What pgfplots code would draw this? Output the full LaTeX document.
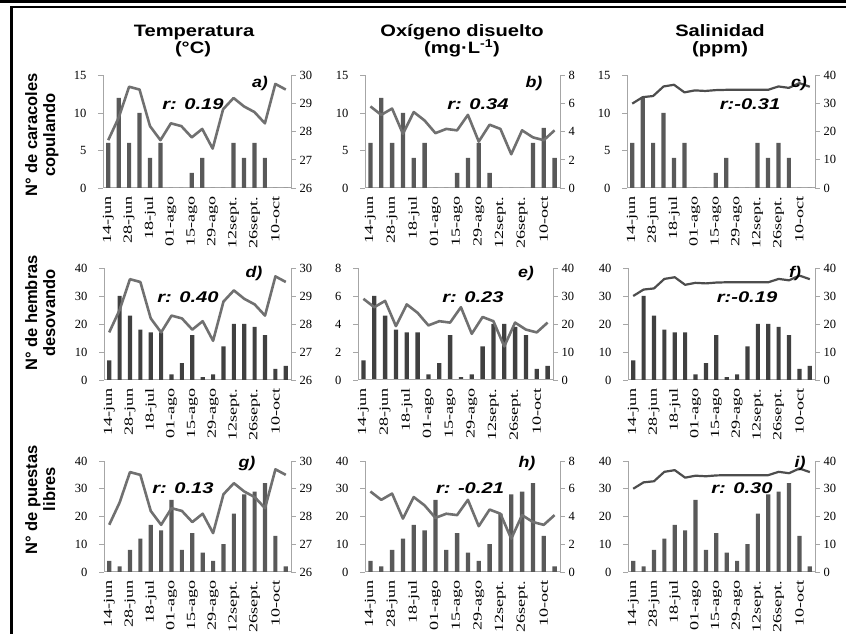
\documentclass[border=0pt]{standalone}
\usepackage{fontspec}
\usepackage{pgfplots}
\usepackage{pgfplotstable}
\pgfplotsset{compat=1.18}
\setmainfont{Liberation Serif}
\newfontfamily\tickfont{Liberation Serif}
\newfontfamily\xtickfont[FakeStretch=1.45]{Liberation Serif}
\newfontfamily\titlefont[FakeStretch=1.22]{Liberation Sans}
\newfontfamily\rfont[FakeStretch=1.3]{Liberation Sans}
\newfontfamily\letfont[FakeStretch=1.15]{Liberation Sans}
\newfontfamily\rowfont{Liberation Sans}

\definecolor{axgray}{HTML}{A6A6A6}
\definecolor{barA}{HTML}{595959}
\definecolor{barB}{HTML}{404040}
\definecolor{lineT}{HTML}{707070}
\definecolor{lineS}{HTML}{4D4D4D}

\pgfplotstableread{
x T O S copA copB des pue
0 27.7 5.8 30.0 6 6 7 4
1 28.5 5.2 32.3 12 12 30 2
2 29.6 5.65 32.7 6 6 23 8
3 29.5 3.85 36.1 10 10 18 12
4 28.2 5.4 36.7 4 4 17 17
5 27.7 4.8 34.0 6 6 17 15
6 28.3 3.9 34.7 0 0 2 26
7 28.2 4.2 34.5 0 0 6 8
8 27.8 4.1 34.8 2 2 16 14
9 28.1 5.2 34.9 4 4 1 7
10 27.4 3.3 34.9 0 6 2 4
11 28.8 4.5 34.9 0 2 12 10
12 29.2 4.2 34.9 6 0 20 21
13 28.9 2.4 34.9 4 0 20 28
14 28.7 4.1 36.1 6 0 19 29
15 28.3 3.6 35.6 4 6 16 32
16 29.7 3.4 37.3 0 8 4 13
17 29.5 4.1 36.0 0 4 5 2
}\data

\pgfplotsset{
 pan/.style={scale only axis, xmin=-0.5, xmax=17.5,
   axis line style={draw=axgray, line width=1pt, -},
   tick align=outside, major tick length=5pt,
   ytick style={draw=axgray, line width=0.8pt},
   ticklabel style={font=\tickfont\fontsize{12.5}{14}\selectfont, text=black},
   /pgf/number format/assume math mode=true, clip=false, scaled y ticks=false},
 lax/.style={pan, axis y line*=left, axis x line*=bottom,
   xtick={0,2,...,16},
   xticklabels={14-jun,28-jun,18-jul,01-ago,15-ago,29-ago,12sept.,26sept.,10-oct},
   xtick style={draw=none},
   y tick label style={xshift=-8pt},
   x tick label style={rotate=90, anchor=east, font=\xtickfont\fontsize{12.5}{14}\selectfont}},
 rax/.style={pan, axis y line*=right, axis x line=none},
 br/.style={ybar, bar width=0.4, fill=#1, draw=none},
 lt/.style={color=lineT, line width=2.6pt, line join=round, mark=none},
 ls/.style={color=lineS, line width=2.2pt, line join=round, mark=none},
}

\begin{document}
\begin{tikzpicture}
\useasboundingbox (0pt,0pt) rectangle (846pt,634pt);
\draw[line width=2.7pt] (0pt,632.6pt) -- (846pt,632.6pt);
\draw[line width=2.4pt] (11.3pt,-5pt) -- (11.3pt,627pt) -- (850pt,627pt);

% ---------- row 1 ----------
\begin{axis}[lax, at={(103pt,446pt)}, anchor=south west, width=188pt, height=112.5pt, ymin=0, ymax=15, ytick={0,5,10,15}]
\addplot[br=barA] table[x=x,y=copA]{\data};
\end{axis}
\begin{axis}[rax, at={(103pt,446pt)}, anchor=south west, width=188pt, height=112.5pt, ymin=26, ymax=30, ytick={26,27,28,29,30}]
\addplot[lt] table[x=x,y=T]{\data};
\end{axis}

\begin{axis}[lax, at={(365pt,446pt)}, anchor=south west, width=195pt, height=112.5pt, ymin=0, ymax=15, ytick={0,5,10,15}]
\addplot[br=barA] table[x=x,y=copB]{\data};
\end{axis}
\begin{axis}[rax, at={(365pt,446pt)}, anchor=south west, width=195pt, height=112.5pt, ymin=0, ymax=8, ytick={0,2,4,6,8}]
\addplot[lt] table[x=x,y=O]{\data};
\end{axis}

\begin{axis}[lax, at={(627pt,446pt)}, anchor=south west, width=188pt, height=112.5pt, ymin=0, ymax=15, ytick={0,5,10,15}]
\addplot[br=barA] table[x=x,y=copA]{\data};
\end{axis}
\begin{axis}[rax, at={(627pt,446pt)}, anchor=south west, width=188pt, height=112.5pt, ymin=0, ymax=40, ytick={0,10,20,30,40}]
\addplot[ls] table[x=x,y=S]{\data};
\end{axis}

% ---------- row 2 ----------
\begin{axis}[lax, at={(104pt,254pt)}, anchor=south west, width=187pt, height=112pt, ymin=0, ymax=40, ytick={0,10,20,30,40}]
\addplot[br=barB] table[x=x,y=des]{\data};
\end{axis}
\begin{axis}[rax, at={(104pt,254pt)}, anchor=south west, width=187pt, height=112pt, ymin=26, ymax=30, ytick={26,27,28,29,30}]
\addplot[lt] table[x=x,y=T]{\data};
\end{axis}

\begin{axis}[rax, at={(358pt,254pt)}, anchor=south west, width=195pt, height=112pt, ymin=0, ymax=40, ytick={0,10,20,30,40}]
\addplot[br=barB] table[x=x,y=des]{\data};
\end{axis}
\begin{axis}[lax, at={(358pt,254pt)}, anchor=south west, width=195pt, height=112pt, ymin=0, ymax=8, ytick={0,2,4,6,8}]
\addplot[lt] table[x=x,y=O]{\data};
\end{axis}

\begin{axis}[lax, at={(628pt,254pt)}, anchor=south west, width=187pt, height=112pt, ymin=0, ymax=40, ytick={0,10,20,30,40}]
\addplot[br=barB] table[x=x,y=des]{\data};
\end{axis}
\begin{axis}[rax, at={(628pt,254pt)}, anchor=south west, width=187pt, height=112pt, ymin=0, ymax=40, ytick={0,10,20,30,40}]
\addplot[ls] table[x=x,y=S]{\data};
\end{axis}

% ---------- row 3 ----------
\begin{axis}[lax, at={(104pt,62pt)}, anchor=south west, width=187pt, height=111pt, ymin=0, ymax=40, ytick={0,10,20,30,40}]
\addplot[br=barA] table[x=x,y=pue]{\data};
\end{axis}
\begin{axis}[rax, at={(104pt,62pt)}, anchor=south west, width=187pt, height=111pt, ymin=26, ymax=30, ytick={26,27,28,29,30}]
\addplot[lt] table[x=x,y=T]{\data};
\end{axis}

\begin{axis}[lax, at={(365pt,62pt)}, anchor=south west, width=195pt, height=111pt, ymin=0, ymax=40, ytick={0,10,20,30,40}]
\addplot[br=barA] table[x=x,y=pue]{\data};
\end{axis}
\begin{axis}[rax, at={(365pt,62pt)}, anchor=south west, width=195pt, height=111pt, ymin=0, ymax=8, ytick={0,2,4,6,8}]
\addplot[lt] table[x=x,y=O]{\data};
\end{axis}

\begin{axis}[lax, at={(628pt,62pt)}, anchor=south west, width=187pt, height=111pt, ymin=0, ymax=40, ytick={0,10,20,30,40}]
\addplot[br=barA] table[x=x,y=pue]{\data};
\end{axis}
\begin{axis}[rax, at={(628pt,62pt)}, anchor=south west, width=187pt, height=111pt, ymin=0, ymax=40, ytick={0,10,20,30,40}]
\addplot[ls] table[x=x,y=S]{\data};
\end{axis}

% ---------- titles ----------
\begin{scope}[every node/.style={anchor=base, inner sep=0pt, font=\titlefont\bfseries\fontsize{16.5}{19}\selectfont}]
\node at (194pt,597.5pt) {Temperatura};
\node at (193pt,580pt) {(°C)};
\node at (462pt,597.5pt) {Oxígeno disuelto};
\node at (462pt,580pt) {(mg·L\textsuperscript{-1})};
\node at (720pt,597.5pt) {Salinidad};
\node at (720pt,580pt) {(ppm)};
\end{scope}

\begin{scope}[every node/.style={anchor=base, inner sep=0pt, rotate=90, font=\rowfont\bfseries\fontsize{16.5}{19}\selectfont}]
\node at (37pt,499pt) {N° de caracoles};
\node at (55pt,499pt) {copulando};
\node at (37pt,321pt) {N° de hembras};
\node at (55pt,321pt) {desovando};
\node at (37pt,134pt) {N° de puestas};
\node at (55pt,145pt) {libres};
\end{scope}

\begin{scope}[every node/.style={anchor=base, inner sep=0pt, font=\rfont\bfseries\itshape\fontsize{15.5}{18}\selectfont}]
\node at (193pt,524pt) {r: 0.19};
\node at (478pt,524pt) {r: 0.34};
\node at (750pt,524pt) {r:-0.31};
\node at (188pt,331.3pt) {r: 0.40};
\node at (473pt,331.3pt) {r: 0.23};
\node at (747pt,331.3pt) {r:-0.19};
\node at (183pt,140pt) {r: 0.13};
\node at (470pt,140pt) {r: -0.21};
\node at (742pt,140pt) {r: 0.30};
\end{scope}

\begin{scope}[every node/.style={anchor=base, inner sep=0pt, font=\letfont\bfseries\itshape\fontsize{15.5}{18}\selectfont}]
\node at (260pt,546pt) {a)};
\node at (534pt,546pt) {b)};
\node at (799pt,546pt) {c)};
\node at (254pt,356pt) {d)};
\node at (526pt,356pt) {e)};
\node at (795pt,356pt) {f)};
\node at (247pt,166pt) {g)};
\node at (527pt,166pt) {h)};
\node at (800pt,166pt) {i)};
\end{scope}
\end{tikzpicture}
\end{document}
